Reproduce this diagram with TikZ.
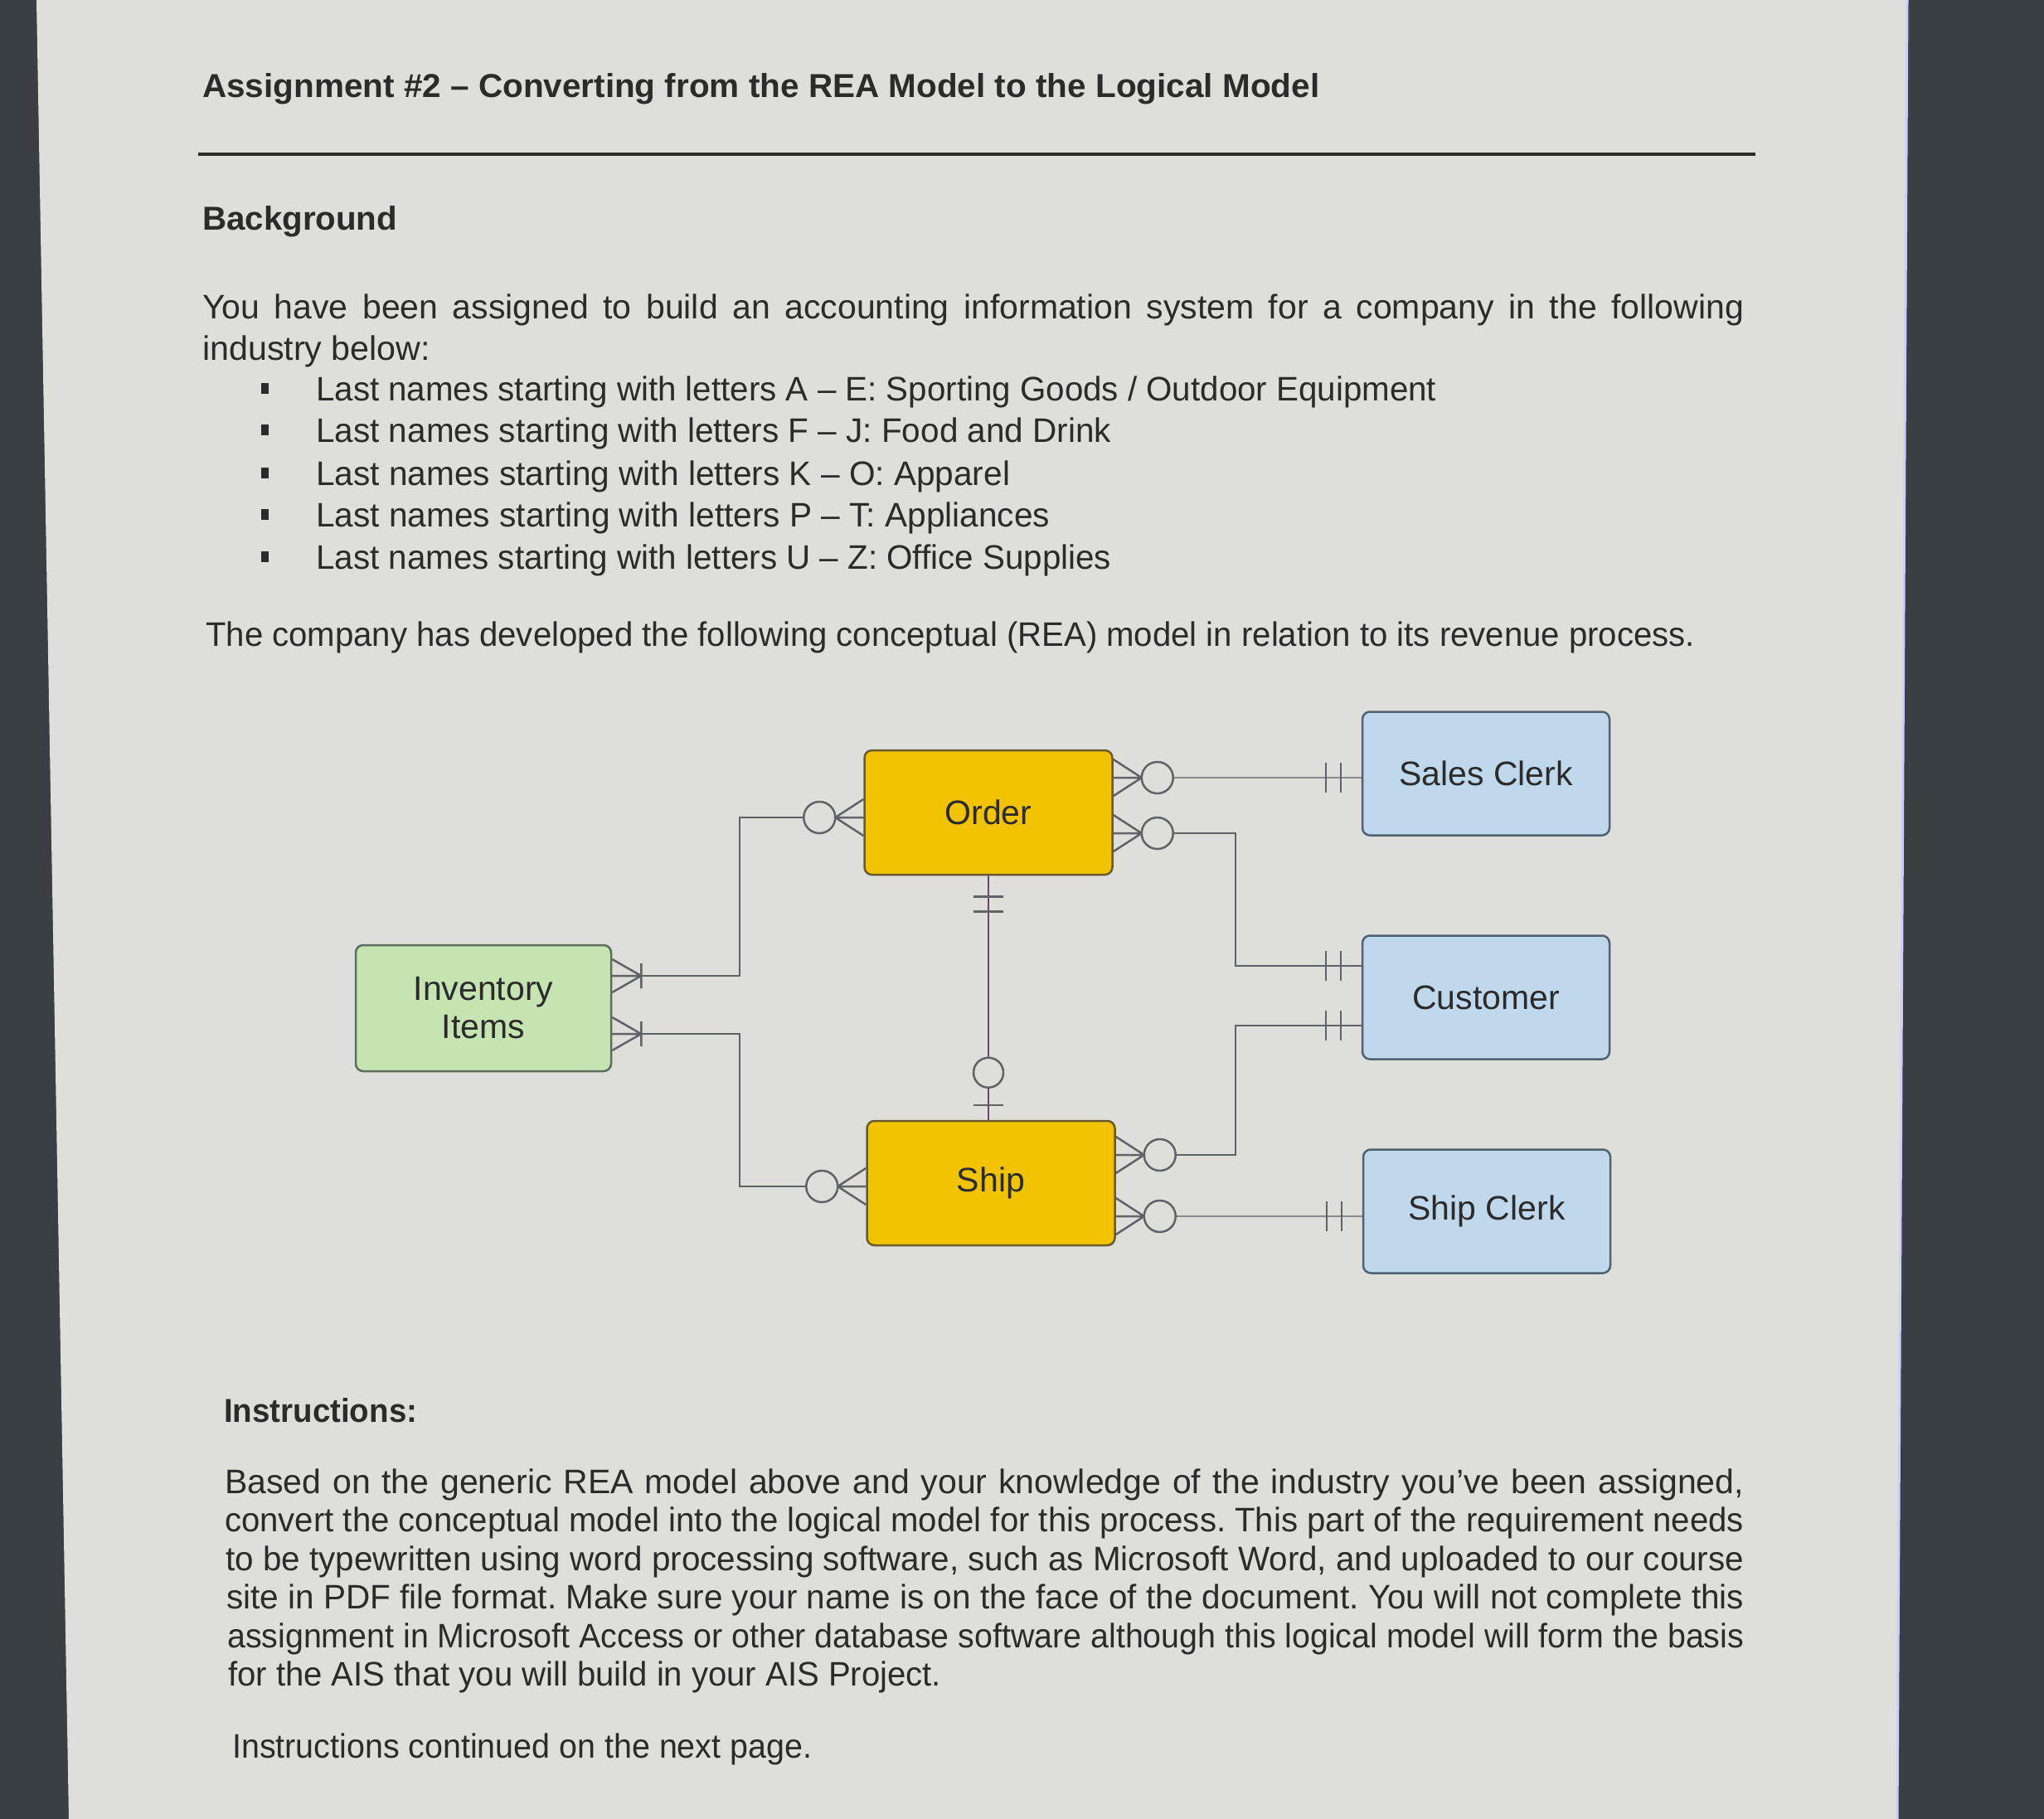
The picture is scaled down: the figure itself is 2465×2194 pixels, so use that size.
\documentclass[tikz,border=0pt]{standalone}
\usepackage{fontspec}
\setmainfont{Liberation Sans}
\usepackage{graphicx}
\usetikzlibrary{calc}
\frenchspacing
\definecolor{pagebg}{HTML}{DEDEDB}
\definecolor{outer}{HTML}{3A3F44}
\definecolor{ink}{HTML}{2B2B2B}
\definecolor{evfill}{HTML}{F2C300}
\definecolor{evdraw}{HTML}{6B5A2A}
\definecolor{agfill}{HTML}{C0D8EC}
\definecolor{agdraw}{HTML}{4F6172}
\definecolor{rsfill}{HTML}{C6E3B2}
\definecolor{rsdraw}{HTML}{5E6E5E}
\definecolor{conncol}{HTML}{5F6266}
\newlength\jlw
\newcommand\jl[2]{\settowidth\jlw{#2}\ifdim\jlw>#1\relax\resizebox{#1}{\height}{#2}\else\makebox[#1][s]{#2}\fi}
\newcommand\fitw[2]{\resizebox{#1}{\height}{#2}}
\tikzset{
  body/.style={font=\fontsize{41}{48}\selectfont, text=ink, inner sep=0pt, anchor=base west},
  bodyb/.style={body, font=\fontsize{40}{48}\selectfont\bfseries},
  entity/.style={rectangle, rounded corners=9pt, line width=2.5pt, inner sep=0pt,
     font=\fontsize{41}{50}\selectfont, text=ink, align=center},
  event/.style={entity, fill=evfill, draw=evdraw, minimum width=299pt, minimum height=150pt},
  agent/.style={entity, fill=agfill, draw=agdraw, minimum width=298pt, minimum height=149pt},
  resource/.style={entity, fill=rsfill, draw=rsdraw, minimum width=308pt, minimum height=152pt},
  conn/.style={draw=conncol, line width=2.5pt},
  bul/.style={fill=ink, draw=none},
  zmany/.pic={
    \draw[conn] (0,22) -- (34,0) -- (0,-22) (0,0) -- (34,0);
    \draw[conn, fill=pagebg] (53,0) circle[radius=19pt];
  },
  crowbar/.pic={
    \draw[conn] (0,20) -- (35,0) -- (0,-20) (0,0) -- (35,0) (35,15) -- (35,-15);
  },
  oneone/.pic={
    \draw[conn] (25,18) -- (25,-18) (43,18) -- (43,-18);
  },
  zeroone/.pic={
    \draw[conn] (18,18) -- (18,-18);
    \draw[conn, fill=pagebg] (57,0) circle[radius=18pt];
  }
}
\begin{document}
\begin{tikzpicture}[x=1pt, y=-1pt]
\useasboundingbox (0,0) rectangle (2465,2194);
\fill[outer] (0,0) rectangle (2465,2194);
\fill[pagebg] (44,0) -- (2299,0) -- (2287,2194) -- (83,2194) -- cycle;
\draw[white!80!blue, line width=3pt] (2300,0) -- (2288,2194);

% heading
\node[bodyb] (title) at (244,118) {\fitw{1347pt}{Assignment \#2 – Converting from the REA Model to the Logical Model}};
\draw[ink, line width=4pt] (239,186) -- (2117,186);
\node[bodyb] (bg) at (244,277) {\fitw{235pt}{Background}};

\node[body] (p1) at (244,384) {\jl{1859pt}{You have been assigned to build an accounting information system for a company in the following}};
\node[body] (p2) at (244,434) {\fitw{275pt}{industry below:}};

\foreach \yy/\txt/\ww in {483/{Last names starting with letters A – E: Sporting Goods / Outdoor Equipment}/1351,
                          533/{Last names starting with letters F – J: Food and Drink}/959,
                          585/{Last names starting with letters K – O: Apparel}/837,
                          635/{Last names starting with letters P – T: Appliances}/885,
                          686/{Last names starting with letters U – Z: Office Supplies}/959}{
  \fill[bul] (315,\yy-21) rectangle (324,\yy-8);
  \node[body] at (381,\yy) {\fitw{\ww pt}{\txt}};
}

\node[body] (p3) at (248,779) {\fitw{1796pt}{The company has developed the following conceptual (REA) model in relation to its revenue process.}};

% diagram
\node[event] (order) at (1192,980) {Order};
\node[event] (ship) at (1195,1427) {Ship};
\node[agent] (sales) at (1792,933) {Sales Clerk};
\node[agent] (customer) at (1792,1203) {Customer};
\node[agent] (shipclerk) at (1793,1461) {Ship Clerk};
\node[resource] (inv) at (583,1216) {Inventory\\[-4pt]Items};

\coordinate (ya) at (0,938);
\coordinate (yb) at (0,1005);
\coordinate (yc) at (0,1165);
\coordinate (yd) at (0,1237);
\coordinate (ye) at (0,1393);
\coordinate (yf) at (0,1467);
\coordinate (yg) at (0,1177);
\coordinate (yh) at (0,1247);
\coordinate (yi) at (0,986);
\coordinate (yj) at (0,1431);
\coordinate (xa) at (1490,0);
\coordinate (xb) at (892,0);

\draw[conn, draw=conncol!75] (order.east |- ya) -- (sales.west |- ya);
\draw[conn] (order.east |- yb) -| (xa |- yc) -- (customer.west |- yc);
\draw[conn] (ship.east |- ye) -| (xa |- yd) -- (customer.west |- yd);
\draw[conn, draw=conncol!75] (ship.east |- yf) -- (shipclerk.west |- yf);
\draw[conn] (inv.east |- yg) -| (xb |- yi) -- (order.west |- yi);
\draw[conn] (inv.east |- yh) -| (xb |- yj) -- (ship.west |- yj);
\draw[conn, draw=conncol!70!violet] (order.south) -- (order.south |- ship.north);

\pic at (order.east |- ya) {zmany};
\pic at (order.east |- yb) {zmany};
\pic at (ship.east |- ye) {zmany};
\pic at (ship.east |- yf) {zmany};
\pic[rotate=180] at (order.west |- yi) {zmany};
\pic[rotate=180] at (ship.west |- yj) {zmany};
\pic at (inv.east |- yg) {crowbar};
\pic at (inv.east |- yh) {crowbar};
\pic[rotate=180] at (sales.west |- ya) {oneone};
\pic[rotate=180] at (customer.west |- yc) {oneone};
\pic[rotate=180] at (customer.west |- yd) {oneone};
\pic[rotate=180] at (shipclerk.west |- yf) {oneone};
\pic[rotate=-90] at (order.south) {oneone};
\pic[rotate=90] at (order.south |- ship.north) {zeroone};

% instructions
\node[bodyb] (instr) at (270,1715) {\fitw{233pt}{Instructions:}};
\node[body] (b1) at (271,1801) {\jl{1832pt}{Based on the generic REA model above and your knowledge of the industry you've been assigned,}};
\node[body] (b2) at (271,1847) {\jl{1832pt}{convert the conceptual model into the logical model for this process. This part of the requirement needs}};
\node[body] (b3) at (272,1894) {\jl{1831pt}{to be typewritten using word processing software, such as Microsoft Word, and uploaded to our course}};
\node[body] (b4) at (273,1940) {\jl{1830pt}{site in PDF file format. Make sure your name is on the face of the document. You will not complete this}};
\node[body] (b5) at (274,1987) {\jl{1829pt}{assignment in Microsoft Access or other database software although this logical model will form the basis}};
\node[body] (b6) at (275,2033) {\fitw{860pt}{for the AIS that you will build in your AIS Project.}};
\node[body] (b7) at (280,2120) {\fitw{699pt}{Instructions continued on the next page.}};
\end{tikzpicture}
\end{document}
